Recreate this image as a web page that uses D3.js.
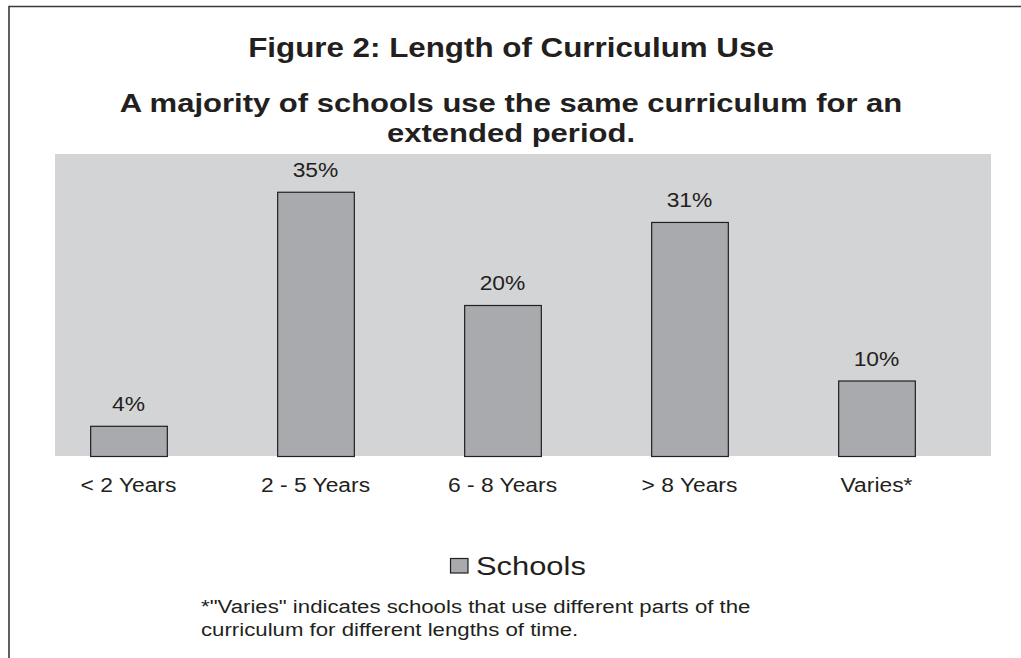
<!DOCTYPE html>
<html>
<head>
<meta charset="utf-8">
<script src="https://cdn.jsdelivr.net/npm/d3@7/dist/d3.min.js"></script>
<style>
  html, body { margin: 0; padding: 0; background: #fff; }
  svg { display: block; }
  text { font-family: "Liberation Sans", Arial, Helvetica, sans-serif; fill: #231f20; }
</style>
</head>
<body>
<svg id="chart" width="1021" height="658"></svg>
<script>
const categories = ["< 2 Years", "2 - 5 Years", "6 - 8 Years", "> 8 Years", "Varies*"];
const schools = [4, 35, 20, 31, 10];
const valueLabels = ["4%", "35%", "20%", "31%", "10%"];
const seriesName = "Schools";
const titleText = "Figure 2: Length of Curriculum Use";
const subtitleLines = ["A majority of schools use the same curriculum for an", "extended period."];
const footnoteLines = ["*\"Varies\" indicates schools that use different parts of the", "curriculum for different lengths of time."];

const svg = d3.select("#chart");
const SX = 1.17; // horizontal text stretch seen in the reference
const ink = "#231f20";
const barFill = "#a9aaad";
const plotBg = "#d3d4d6";

function stretchedText(g, x, y, txt, size, weight, anchor, sx) {
  return g.append("text")
    .attr("transform", `translate(${x},${y}) scale(${sx || SX},1)`)
    .attr("text-anchor", anchor || "middle")
    .style("font-size", size + "px")
    .style("font-weight", weight || "normal")
    .text(txt);
}

// frame (top and left edges visible)
svg.append("path")
  .attr("d", "M9,658 L9,6.5 L1021,6.5")
  .attr("fill", "none").attr("stroke", "#3a3a3a").attr("stroke-width", 1.6);

// titles
stretchedText(svg, 511, 57, titleText, 27.5, "bold", "middle", 1.14);
subtitleLines.forEach((l, i) => stretchedText(svg, 511, 112 + i * 30, l, 26.5, "bold"));

// plot
const plotTop = 154, plotBottom = 456;
svg.append("rect")
  .attr("x", 55).attr("y", plotTop)
  .attr("width", 991 - 55).attr("height", plotBottom - plotTop)
  .attr("fill", plotBg);

const x = d3.scaleBand().domain(categories).range([35, 970])
  .paddingInner(0.59).paddingOuter(0.295);
const y = d3.scaleLinear().domain([0, 40]).range([plotBottom, plotTop]);

const data = categories.map((c, i) => ({ c, v: schools[i], label: valueLabels[i] }));

svg.append("g").selectAll("rect").data(data).join("rect")
  .attr("x", d => x(d.c) + 0.5)
  .attr("y", d => y(d.v) + 0.5)
  .attr("width", x.bandwidth())
  .attr("height", d => y(0) - y(d.v))
  .attr("fill", barFill)
  .attr("stroke", ink)
  .attr("stroke-width", 1.2);

const labG = svg.append("g");
data.forEach(d => {
  stretchedText(labG, x(d.c) + x.bandwidth() / 2, y(d.v) - 15, d.label, 19.5);
});

// category axis labels (no axis line)
const axisG = svg.append("g").attr("transform", `translate(0,${plotBottom})`);
const axis = d3.axisBottom(x).tickSize(0).tickPadding(0);
axisG.call(axis);
axisG.select(".domain").remove();
axisG.selectAll(".tick text").remove();
axisG.selectAll(".tick").each(function(c) {
  stretchedText(d3.select(this), 0, 36, c, 19.5);
});

// legend
const lg = svg.append("g");
lg.append("rect").attr("x", 450.5).attr("y", 558.5).attr("width", 17.5).attr("height", 14.5)
  .attr("fill", barFill).attr("stroke", ink).attr("stroke-width", 1.2);
stretchedText(lg, 476, 575, seriesName, 26.4, "normal", "start");

// footnote
footnoteLines.forEach((l, i) => stretchedText(svg, 201, 613 + i * 23, l, 19, "normal", "start"));
</script>
</body>
</html>
